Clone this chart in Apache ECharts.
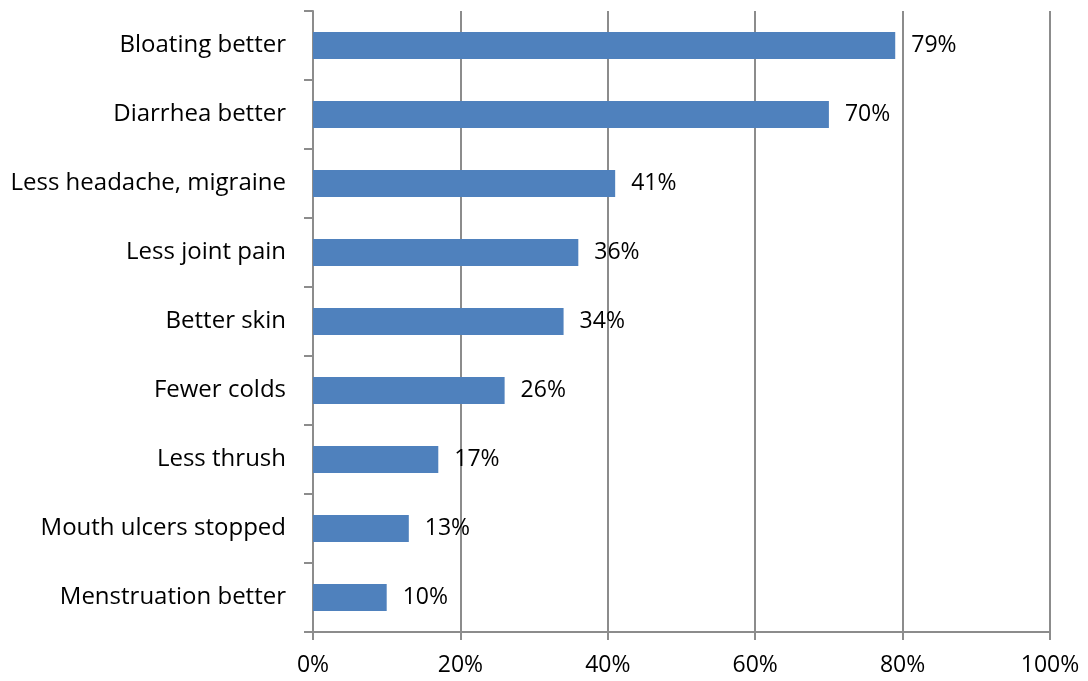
<!DOCTYPE html>
<html>
<head>
<meta charset="utf-8">
<script src="https://cdn.jsdelivr.net/npm/echarts@6/dist/echarts.min.js"></script>
<style>
  html, body { margin: 0; padding: 0; background: #fff; }
  #chart { width: 1088px; height: 681px; }
</style>
</head>
<body>
<div id="chart"></div>
<script>
// Reported improvements, top to bottom
const categories = [
  'Bloating better',
  'Diarrhea better',
  'Less headache, migraine',
  'Less joint pain',
  'Better skin',
  'Fewer colds',
  'Less thrush',
  'Mouth ulcers stopped',
  'Menstruation better'
];
const percentages = [79, 70, 41, 36, 34, 26, 17, 13, 10];
const axisMax = 100;
const axisStep = 20;

const FONT = '"Open Sans", sans-serif';
const AXIS_GREY = '#8c8c8c';

const chart = echarts.init(document.getElementById('chart'), null, { renderer: 'canvas' });
chart.setOption({
  animation: false,
  backgroundColor: '#ffffff',
  grid: { left: 313, right: 38, top: 11, bottom: 49, containLabel: false },
  xAxis: {
    type: 'value',
    min: 0,
    max: axisMax,
    interval: axisStep,
    axisLine: { show: true, lineStyle: { color: AXIS_GREY, width: 2 } },
    axisTick: { show: true, length: 8, lineStyle: { color: AXIS_GREY, width: 2 } },
    splitLine: { show: true, lineStyle: { color: AXIS_GREY, width: 2 } },
    axisLabel: {
      formatter: '{value}%',
      color: '#000',
      fontFamily: FONT,
      fontSize: 23,
      margin: 22
    }
  },
  yAxis: {
    type: 'category',
    inverse: true,
    data: categories,
    axisLine: { show: true, lineStyle: { color: AXIS_GREY, width: 2 } },
    axisTick: { show: true, length: 9, lineStyle: { color: AXIS_GREY, width: 2 } },
    splitLine: { show: false },
    axisLabel: {
      color: '#000',
      fontFamily: FONT,
      fontSize: 24,
      margin: 27,
      padding: [4, 0, 0, 0]
    }
  },
  series: [{
    type: 'bar',
    data: percentages,
    barWidth: 27,
    itemStyle: { color: '#4F81BD' },
    label: {
      show: true,
      position: 'right',
      distance: 16,
      formatter: '{c}%',
      color: '#000',
      fontFamily: FONT,
      fontSize: 23,
      padding: [4, 0, 0, 0]
    }
  }]
});
</script>
</body>
</html>
